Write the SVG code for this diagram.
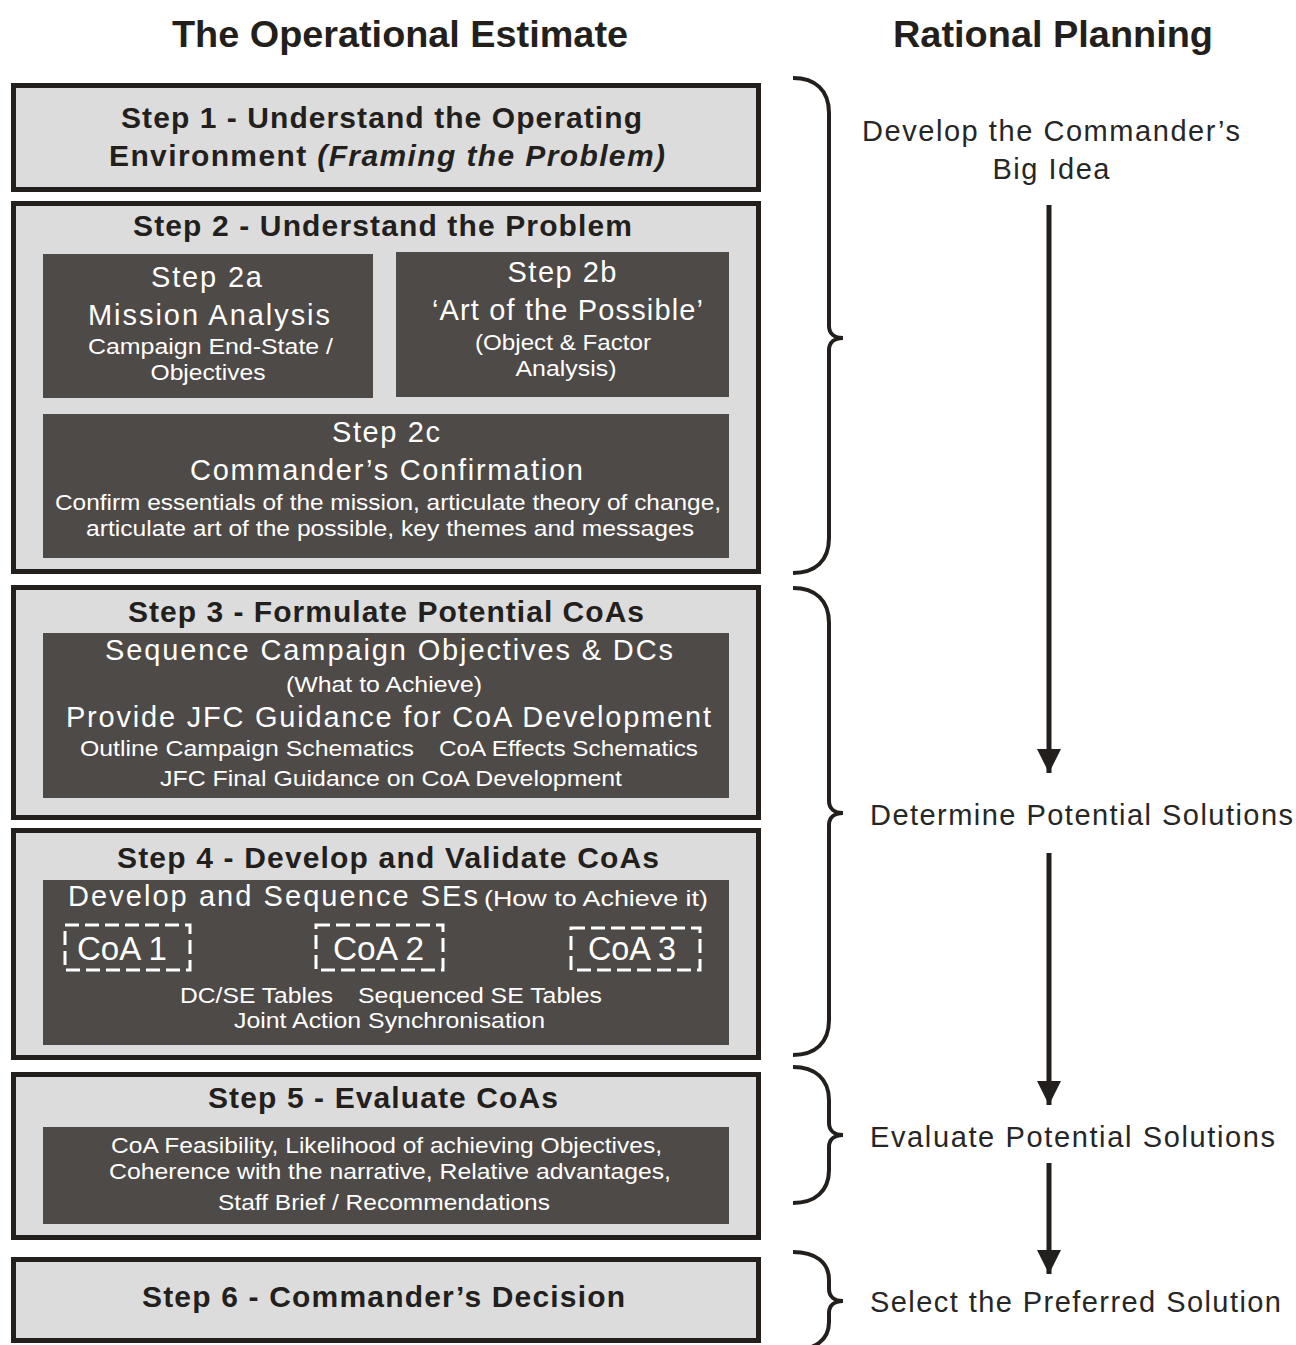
<svg xmlns="http://www.w3.org/2000/svg" width="1296" height="1345" viewBox="0 0 1296 1345">
  <style>
    .outer { fill: #dcdcdc; stroke: #231f1c; stroke-width: 5; }
    .inner { fill: #4e4a47; }
    .hd { font-family: "Liberation Sans", Arial, sans-serif; font-weight: bold; font-size: 30px; fill: #231f1c; text-anchor: middle; }
    .ttl { font-family: "Liberation Sans", Arial, sans-serif; font-weight: bold; font-size: 36px; fill: #231f1c; text-anchor: middle; }
    .w1 { font-family: "Liberation Sans", Arial, sans-serif; font-size: 29px; fill: #ffffff; text-anchor: middle; }
    .w2 { font-family: "Liberation Sans", Arial, sans-serif; font-size: 22px; fill: #ffffff; text-anchor: middle; }
    .coa { font-family: "Liberation Sans", Arial, sans-serif; font-size: 34px; fill: #ffffff; text-anchor: middle; }
    .dash { fill: none; stroke: #ffffff; stroke-width: 3; stroke-dasharray: 14 6; }
    .rt { font-family: "Liberation Sans", Arial, sans-serif; font-size: 29px; fill: #262626; text-anchor: middle; }
    .brace { fill: none; stroke: #231f1c; stroke-width: 4; }
    .arrow { fill: none; stroke: #231f1c; stroke-width: 5; }
  </style>
  <defs>
    <marker id="head" viewBox="0 0 24 24" refX="24" refY="12" markerWidth="24" markerHeight="24" markerUnits="userSpaceOnUse" orient="auto">
      <path d="M0,0 L24,12 L0,24 Z" fill="#231f1c"/>
    </marker>
  </defs>

  <rect width="1296" height="1345" fill="#ffffff"/>

  <!-- column titles -->
  <text class="ttl" x="400" y="47" textLength="456" lengthAdjust="spacingAndGlyphs">The Operational Estimate</text>
  <text class="ttl" x="1053" y="47" textLength="320" lengthAdjust="spacingAndGlyphs">Rational Planning</text>

  <!-- Step 1 -->
  <g id="step1">
    <rect class="outer" x="13.5" y="85.5" width="745" height="104"/>
    <text class="hd" x="381.5" y="128" textLength="521">Step 1 - Understand the Operating</text>
    <text class="hd" x="387" y="166" textLength="556">Environment <tspan font-style="italic">(Framing the Problem)</tspan></text>
  </g>

  <!-- Step 2 -->
  <g id="step2">
    <rect class="outer" x="13.5" y="203.5" width="745" height="368"/>
    <text class="hd" x="382.5" y="236" textLength="499">Step 2 - Understand the Problem</text>
    <g id="step2a">
      <rect class="inner" x="43" y="254" width="330" height="144"/>
      <text class="w1" x="206.5" y="287" textLength="111">Step 2a</text>
      <text class="w1" x="209" y="325" textLength="242">Mission Analysis</text>
      <text class="w2" x="210.5" y="354" textLength="245" lengthAdjust="spacingAndGlyphs">Campaign End-State /</text>
      <text class="w2" x="208" y="380" textLength="115" lengthAdjust="spacingAndGlyphs">Objectives</text>
    </g>
    <g id="step2b">
      <rect class="inner" x="396" y="252" width="333" height="145"/>
      <text class="w1" x="562" y="282" textLength="109">Step 2b</text>
      <text class="w1" x="567.5" y="320" textLength="271">‘Art of the Possible’</text>
      <text class="w2" x="563" y="350" textLength="176" lengthAdjust="spacingAndGlyphs">(Object &amp; Factor</text>
      <text class="w2" x="566" y="376" textLength="101" lengthAdjust="spacingAndGlyphs">Analysis)</text>
    </g>
    <g id="step2c">
      <rect class="inner" x="43" y="414" width="686" height="144"/>
      <text class="w1" x="386" y="442" textLength="108">Step 2c</text>
      <text class="w1" x="386.5" y="480" textLength="393">Commander’s Confirmation</text>
      <text class="w2" x="388" y="510" textLength="666" lengthAdjust="spacingAndGlyphs">Confirm essentials of the mission, articulate theory of change,</text>
      <text class="w2" x="390" y="536" textLength="608" lengthAdjust="spacingAndGlyphs">articulate art of the possible, key themes and messages</text>
    </g>
  </g>

  <!-- Step 3 -->
  <g id="step3">
    <rect class="outer" x="13.5" y="587.5" width="745" height="230"/>
    <text class="hd" x="386" y="622" textLength="516">Step 3 - Formulate Potential CoAs</text>
    <rect class="inner" x="43" y="633" width="686" height="165"/>
    <text class="w1" x="389" y="660" textLength="568">Sequence Campaign Objectives &amp; DCs</text>
    <text class="w2" x="384" y="692" textLength="196" lengthAdjust="spacingAndGlyphs">(What to Achieve)</text>
    <text class="w1" x="388.5" y="727" textLength="645">Provide JFC Guidance for CoA Development</text>
    <text class="w2" x="247" y="756" textLength="334" lengthAdjust="spacingAndGlyphs">Outline Campaign Schematics</text>
    <text class="w2" x="568.5" y="756" textLength="259" lengthAdjust="spacingAndGlyphs">CoA Effects Schematics</text>
    <text class="w2" x="391" y="786" textLength="462" lengthAdjust="spacingAndGlyphs">JFC Final Guidance on CoA Development</text>
  </g>

  <!-- Step 4 -->
  <g id="step4">
    <rect class="outer" x="13.5" y="830.5" width="745" height="227"/>
    <text class="hd" x="388" y="868" textLength="542">Step 4 - Develop and Validate CoAs</text>
    <rect class="inner" x="43" y="880" width="686" height="165"/>
    <text class="w1" x="273" y="906" textLength="410">Develop and Sequence SEs</text>
    <text class="w2" x="596" y="906" textLength="224" lengthAdjust="spacingAndGlyphs">(How to Achieve it)</text>
    <g id="coa1">
      <rect class="dash" x="65" y="925" width="125" height="45"/>
      <text class="coa" x="122" y="960" textLength="90" lengthAdjust="spacingAndGlyphs">CoA 1</text>
    </g>
    <g id="coa2">
      <rect class="dash" x="316" y="925" width="127" height="45"/>
      <text class="coa" x="378.5" y="960" textLength="91" lengthAdjust="spacingAndGlyphs">CoA 2</text>
    </g>
    <g id="coa3">
      <rect class="dash" x="571" y="928" width="129" height="42"/>
      <text class="coa" x="632" y="960" textLength="88" lengthAdjust="spacingAndGlyphs">CoA 3</text>
    </g>
    <text class="w2" x="256.5" y="1003" textLength="153" lengthAdjust="spacingAndGlyphs">DC/SE Tables</text>
    <text class="w2" x="480" y="1003" textLength="244" lengthAdjust="spacingAndGlyphs">Sequenced SE Tables</text>
    <text class="w2" x="389.5" y="1028" textLength="311" lengthAdjust="spacingAndGlyphs">Joint Action Synchronisation</text>
  </g>

  <!-- Step 5 -->
  <g id="step5">
    <rect class="outer" x="13.5" y="1074.5" width="745" height="163"/>
    <text class="hd" x="383" y="1108" textLength="350">Step 5 - Evaluate CoAs</text>
    <rect class="inner" x="43" y="1127" width="686" height="97"/>
    <text class="w2" x="386.5" y="1153" textLength="551" lengthAdjust="spacingAndGlyphs">CoA Feasibility, Likelihood of achieving Objectives,</text>
    <text class="w2" x="390" y="1179" textLength="562" lengthAdjust="spacingAndGlyphs">Coherence with the narrative, Relative advantages,</text>
    <text class="w2" x="384" y="1210" textLength="332" lengthAdjust="spacingAndGlyphs">Staff Brief / Recommendations</text>
  </g>

  <!-- Step 6 -->
  <g id="step6">
    <rect class="outer" x="13.5" y="1259.5" width="745" height="81"/>
    <text class="hd" x="383.5" y="1307" textLength="483">Step 6 - Commander’s Decision</text>
  </g>

  <!-- braces grouping the steps into planning phases -->
  <g id="braces">
    <path class="brace" d="M793,78 C815,78 829,90 829,113 L829,326 C829,334 835,338 843,338 C835,338 829,342 829,350 L829,538 C829,561 815,573 793,573"/>
    <path class="brace" d="M793,588 C815,588 829,600 829,623 L829,801 C829,809 835,813 843,813 C835,813 829,817 829,825 L829,1020 C829,1043 815,1055 793,1055"/>
    <path class="brace" d="M793,1067 C815,1067 829,1079 829,1100 L829,1123 C829,1131 835,1135 843,1135 C835,1135 829,1139 829,1147 L829,1170 C829,1191 815,1203 793,1203"/>
    <path class="brace" d="M793,1252 C815,1252 829,1262 829,1280 L829,1289 C829,1297 835,1301 843,1301 C835,1301 829,1305 829,1313 L829,1322 C829,1340 815,1350 793,1350"/>
  </g>

  <!-- phase labels -->
  <g id="phase1">
    <text class="rt" x="1051" y="141" textLength="378">Develop the Commander’s</text>
    <text class="rt" x="1051" y="179" textLength="117">Big Idea</text>
  </g>
  <g id="phase2"><text class="rt" x="1081.5" y="825" textLength="423">Determine Potential Solutions</text></g>
  <g id="phase3"><text class="rt" x="1072.5" y="1147" textLength="405">Evaluate Potential Solutions</text></g>
  <g id="phase4"><text class="rt" x="1075.5" y="1312" textLength="411">Select the Preferred Solution</text></g>

  <!-- flow arrows -->
  <g id="connectors">
    <line class="arrow" x1="1049" y1="205" x2="1049" y2="773" marker-end="url(#head)"/>
    <line class="arrow" x1="1049" y1="853" x2="1049" y2="1105" marker-end="url(#head)"/>
    <line class="arrow" x1="1049" y1="1163" x2="1049" y2="1274" marker-end="url(#head)"/>
  </g>
</svg>
